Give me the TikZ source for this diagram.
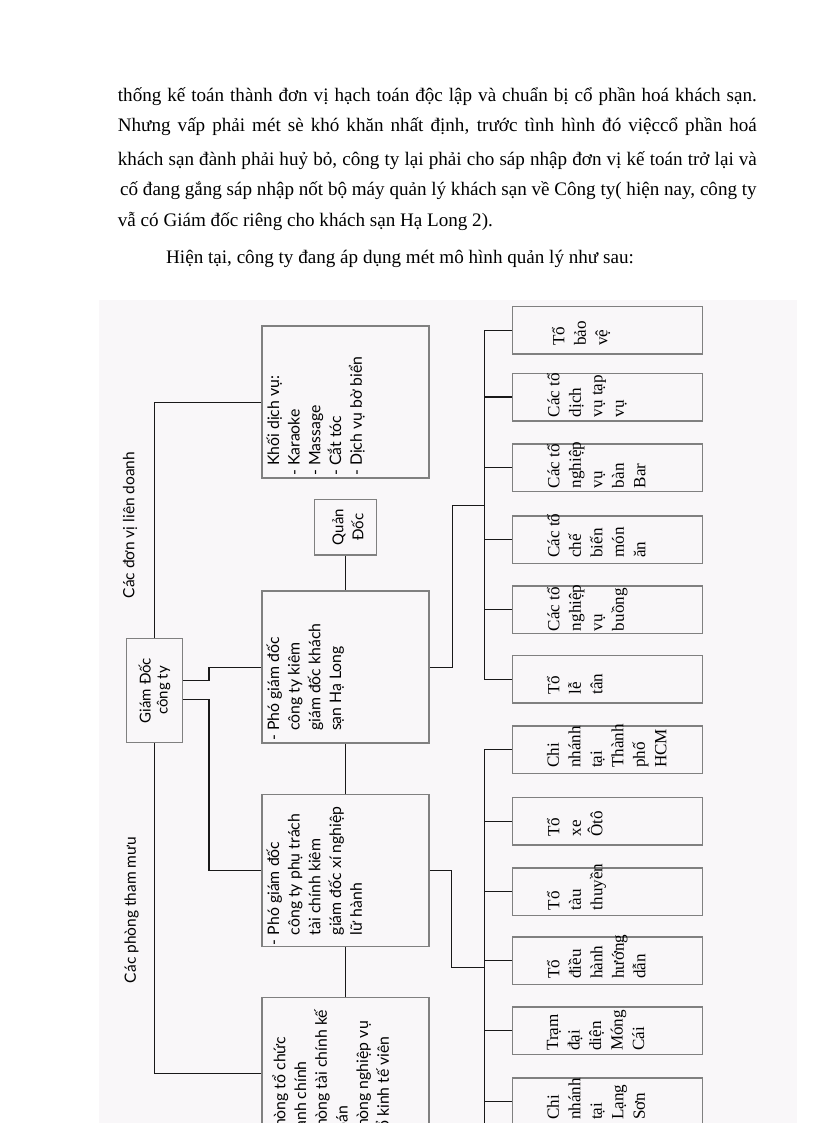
\documentclass[tikz,border=0pt]{standalone}
\usepackage{fontspec}
\setmainfont{Liberation Serif}
\newfontfamily\sansvn{Lato}
\usetikzlibrary{calc}
\definecolor{noisebg}{RGB}{249,247,249}
\tikzset{box/.style={draw=black!50, line width=1.5pt, inner sep=0pt},
  bigbox/.style={box, minimum width=167pt, minimum height=152pt},
  unitbox/.style={box, minimum width=190pt, minimum height=47.5pt},
  link/.style={black!90, line width=1.3pt},
  sanstext/.style={rotate=90, anchor=north west, align=left, inner sep=0pt, font=\sansvn\fontsize{15.8}{20.7}\selectfont},
  unittext/.style={rotate=90, anchor=north west, align=left, inner sep=0pt, font=\fontsize{17.1}{21.5}\selectfont},
  bodyline/.style={anchor=base west, inner sep=0pt, font=\fontsize{19.1}{22}\selectfont}}
\newcommand\dashin{\hphantom{- }}

\begin{document}
\begin{tikzpicture}[x=1pt, y=-1pt]
  \useasboundingbox (0,0) rectangle (816,1123);
  \clip (0,0) rectangle (816,1123);
  \fill[noisebg] (99,300) rectangle (797,1123);

  \node[bodyline] (l1) at (117.7,102.0) {\makebox[639pt][s]{thống kế toán thành đơn vị hạch toán độc lập và chuẩn bị cổ phần hoá khách sạn.}};
  \node[bodyline] (l2) at (117.7,131.5) {\makebox[639pt][s]{Nhưng vấp phải mét sè khó khăn nhất định, trước tình hình đó việccổ phần hoá}};
  \node[bodyline] (l3) at (117.7,165.5) {\makebox[639pt][s]{khách sạn đành phải huỷ bỏ, công ty lại phải cho sáp nhập đơn vị kế toán trở lại và}};
  \node[bodyline] (l4) at (120.0,195.5) {\makebox[636.5pt][s]{cố đang gắng sáp nhập nốt bộ máy quản lý khách sạn về Công ty( hiện nay, công ty}};
  \node[bodyline] (l5) at (117.7,226.0) {vẫ có Giám đốc riêng cho khách sạn Hạ Long 2).};
  \node[bodyline] (l6) at (166.0,263.0) {Hiện tại, công ty đang áp dụng mét mô hình quản lý như sau:};

  \node[rotate=90, inner sep=0pt, font=\sansvn\fontsize{15.5}{20.7}\selectfont] (liendoanh) at (130.0, 525.0) {Các đơn vị liên doanh};
  \node[rotate=90, inner sep=0pt, font=\sansvn\fontsize{15.5}{20.7}\selectfont] (thammuu)   at (131.7, 910.0) {Các phòng tham mưu};

  \node[box, minimum width=55.6pt, minimum height=104.4pt] (gd) at (154.5, 690.5) {};
  \node[box, minimum width=62.4pt, minimum height=55.7pt]  (qd) at (345.5, 527.2) {};
  \node[bigbox] (khoi)  at (345.5, 402.2) {};
  \node[bigbox] (pgdks) at (345.5, 667.2) {};
  \node[bigbox] (pgdtc) at (345.5, 870.5) {};
  \node[bigbox] (phong) at (345.5,1073.7) {};

  \node[rotate=90, align=center, inner sep=0pt, font=\sansvn\fontsize{15}{17}\selectfont] (gdt) at (gd) {Giám Đốc\\công ty};
  \node[rotate=90, align=center, inner sep=0pt, font=\sansvn\fontsize{15}{20}\selectfont] (qdt) at ($(qd)+(2.5,0)$) {Quản\\Đốc};
  \node[sanstext] (khoit)  at ($(khoi.south west)+(5,-3)$)  {\dashin Khối dịch vụ:\\- Karaoke\\- Massage\\- Cắt tóc\\- Dịch vụ bờ biển};
  \node[sanstext] (pgdkst) at ($(pgdks.south west)+(5,-3)$) {- Phó giám đốc\\\dashin công ty kiêm\\\dashin giám đốc khách\\\dashin sạn Hạ Long};
  \node[sanstext] (pgdtct) at ($(pgdtc.south west)+(5,-2)$) {- Phó giám đốc\\\dashin công ty phụ trách\\\dashin tài chính kiêm\\\dashin giám đốc xí nghiệp\\\dashin lữ hành};
  \node[sanstext] (phongt) at ($(phong.south west)+(11,-3)$) {- Phòng tổ chức\\\dashin hành chính\\- Phòng tài chính kế\\\dashin toán\\- Phòng nghiệp vụ\\- Tổ kinh tế viên};

  \node[unitbox] (b1)  at (607.5, 330.3) {};
  \node[unitbox] (b2)  at (607.5, 397.0) {};
  \node[unitbox] (b3)  at (607.5, 467.8) {};
  \node[unitbox] (b4)  at (607.5, 539.5) {};
  \node[unitbox] (b5)  at (607.5, 609.7) {};
  \node[unitbox] (b6)  at (607.5, 679.2) {};
  \node[unitbox] (b7)  at (607.5, 749.5) {};
  \node[unitbox] (b8)  at (607.5, 821.2) {};
  \node[unitbox] (b9)  at (607.5, 891.7) {};
  \node[unitbox] (b10) at (607.5, 960.5) {};
  \node[unitbox] (b11) at (607.5,1030.5) {};
  \node[unitbox] (b12) at (607.5,1101.5) {};

  \node[unittext] (t1)  at ($(b1.south west)+(40,-9)$)  {Tổ\\bảo\\vệ};
  \node[unittext] (t2)  at ($(b2.south west)+(35,-4)$)  {Các tổ\\dịch\\vụ tạp\\vụ};
  \node[unittext] (t3)  at ($(b3.south west)+(35,-4)$)  {Các tổ\\nghiệp\\vụ\\bàn\\Bar};
  \node[unittext] (t4)  at ($(b4.south west)+(35,-6)$)  {Các tổ\\chế\\biến\\món\\ăn};
  \node[unittext] (t5)  at ($(b5.south west)+(35,-3)$)  {Các tổ\\nghiệp\\vụ\\buồng};
  \node[unittext] (t6)  at ($(b6.south west)+(35,-9)$)  {Tổ\\lễ\\tân};
  \node[unittext] (t7)  at ($(b7.south west)+(35,-6)$)  {Chi\\nhánh\\tại\\Thành\\phố\\HCM};
  \node[unittext] (t8)  at ($(b8.south west)+(35,-9)$)  {Tổ\\xe\\Ôtô};
  \node[unittext] (t9)  at ($(b9.south west)+(35,-6)$)  {Tổ\\tàu\\thuyền};
  \node[unittext] (t10) at ($(b10.south west)+(35,-6)$) {Tổ\\điều\\hành\\hướng\\dẫn};
  \node[unittext] (t11) at ($(b11.south west)+(35,-4)$) {Trạm\\đại\\diện\\Móng\\Cái};
  \node[unittext] (t12) at ($(b12.south west)+(35,-6)$) {Chi\\nhánh\\tại\\Lạng\\Sơn};

  \coordinate (bus1) at (484.3, 505.7);
  \coordinate (bus2) at (484.3, 967.7);
  \coordinate (busend) at (484.3,1123.0);

  \draw[link] (gd.north) |- (khoi.west);
  \draw[link] ($(gd.east)+(0,-10)$) -- ++(26,0) |- (pgdks.west);
  \draw[link] ($(gd.east)+(0,9)$) -- ++(26,0) |- (pgdtc.west);
  \draw[link] (gd.south) |- (phong.west);
  \draw[link] (qd) -- (pgdks);
  \draw[link] (pgdks) -- (pgdtc);
  \draw[link] (pgdtc) -- (phong);

  \draw[link] (pgdks.east) -- ++(22.4,0) |- (bus1);
  \draw[link] (b1.west) -- (b1.west -| bus1) -- (b6.west -| bus1) -- (b6.west);
  \draw[link] (b2.west) -- (b2.west -| bus1);
  \draw[link] (b3.west) -- (b3.west -| bus1);
  \draw[link] (b4.west) -- (b4.west -| bus1);
  \draw[link] (b5.west) -- (b5.west -| bus1);

  \draw[link] (pgdtc.east) -- ++(22,0) |- (bus2);
  \draw[link] (b7.west) -- (b7.west -| bus2) -- (busend);
  \draw[link] (b8.west) -- (b8.west -| bus2);
  \draw[link] (b9.west) -- (b9.west -| bus2);
  \draw[link] (b10.west) -- (b10.west -| bus2);
  \draw[link] (b11.west) -- (b11.west -| bus2);
  \draw[link] (b12.west) -- (b12.west -| bus2);
\end{tikzpicture}
\end{document}
